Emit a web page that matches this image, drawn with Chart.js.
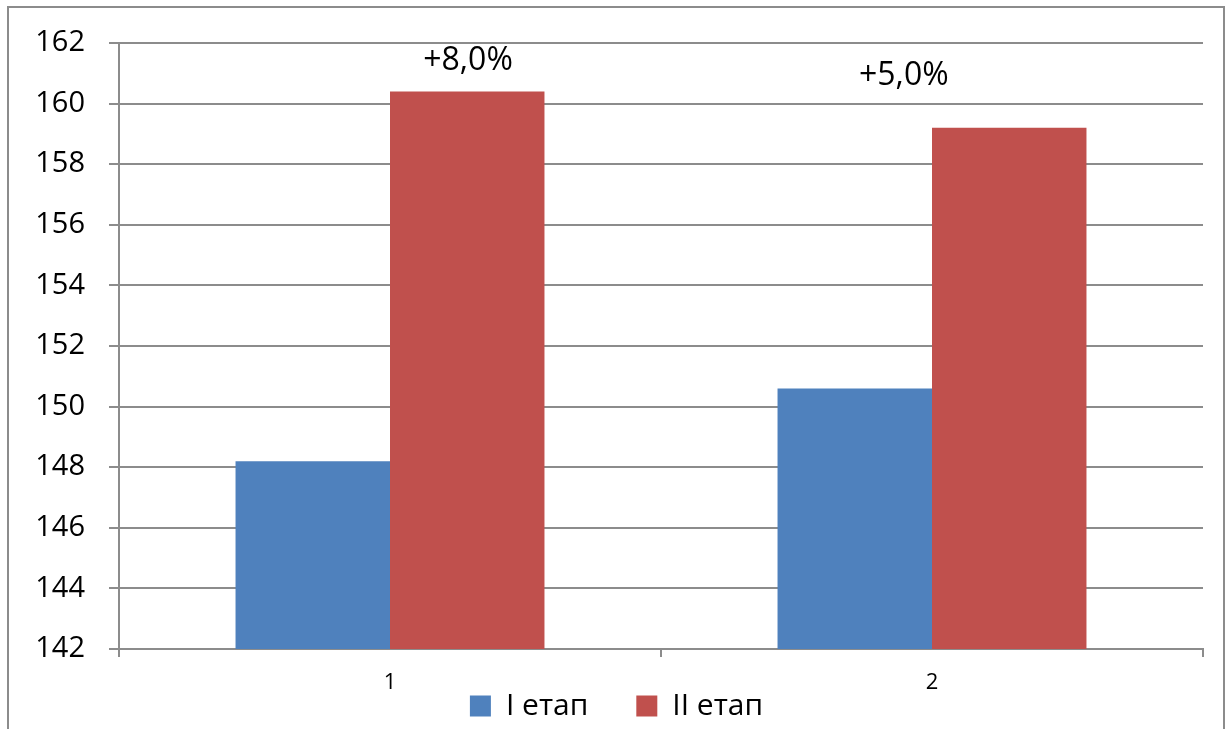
<!DOCTYPE html>
<html>
<head>
<meta charset="utf-8">
<script src="https://cdn.jsdelivr.net/npm/chart.js@4/dist/chart.umd.min.js"></script>
<style>
  html, body { margin: 0; padding: 0; background: #fff; overflow: hidden; }
  #frame { position: absolute; left: 7px; top: 6px; width: 1214px; height: 760px; border: 2px solid #8c8c8c; }
  #wrap { position: absolute; left: 0; top: 0; width: 1230px; height: 729px; }
</style>
</head>
<body>
<div id="frame"></div>
<div id="wrap"><canvas id="barChart"></canvas></div>
<script>
'use strict';

// Data
const categories = ['1', '2'];
const stageOne = [148.2, 150.6];
const stageTwo = [160.4, 159.2];
const seriesNames = ['I етап', 'II етап'];
const yTicks = [142, 144, 146, 148, 150, 152, 154, 156, 158, 160, 162];

// Growth notes: text, category position, value position
const noteText = ['+8,0%', '+5,0%'];
const noteX = [0.144, 0.948];
const noteY = [161.4, 160.9];

(function () {
    const blueColor = '#4F81BD',
        redColor = '#C0504D',
        gridColor = '#8c8c8c',
        textColor = '#000000',
        fontFamily = '"Open Sans", "Noto Sans", sans-serif';

    // Draw the percent notes above the bars
    const notesPlugin = {
        id: 'notes',
        afterDatasetsDraw(chart) {
            const ctx = chart.ctx;
            const xs = chart.scales.x, ys = chart.scales.y;
            ctx.save();
            ctx.fillStyle = textColor;
            ctx.font = '32px ' + fontFamily;
            ctx.textAlign = 'center';
            ctx.textBaseline = 'middle';
            noteText.forEach(function (t, i) {
                ctx.fillText(t, xs.getPixelForValue(noteX[i]), ys.getPixelForValue(noteY[i]));
            });
            ctx.restore();
        }
    };

    const barChart = document.getElementById('barChart');
    if (barChart) {
        new Chart(barChart, {
            type: 'bar',
            data: {
                labels: categories,
                datasets: [
                    {
                        label: seriesNames[0],
                        data: stageOne,
                        backgroundColor: blueColor,
                        borderWidth: 0,
                        categoryPercentage: 0.57,
                        barPercentage: 1
                    },
                    {
                        label: seriesNames[1],
                        data: stageTwo,
                        backgroundColor: redColor,
                        borderWidth: 0,
                        categoryPercentage: 0.57,
                        barPercentage: 1
                    }
                ]
            },
            options: {
                responsive: true,
                maintainAspectRatio: false,
                animation: false,
                layout: {
                    padding: { top: 43, right: 27, left: 30, bottom: -8 }
                },
                plugins: {
                    tooltip: { enabled: false },
                    legend: {
                        position: 'bottom',
                        labels: {
                            color: textColor,
                            boxWidth: 21,
                            boxHeight: 21,
                            padding: 48,
                            font: { family: fontFamily, size: 30 }
                        }
                    }
                },
                scales: {
                    x: {
                        // labels sit under the axis, the box itself stays thin
                        afterFit(scale) {
                            scale.height = -6;
                        },
                        grid: {
                            drawOnChartArea: false,
                            drawTicks: true,
                            tickLength: 8,
                            color: gridColor,
                            lineWidth: 2
                        },
                        border: { color: gridColor, width: 2 },
                        ticks: {
                            color: textColor,
                            mirror: true,
                            padding: -47,
                            font: { family: fontFamily, size: 22 }
                        }
                    },
                    y: {
                        min: yTicks[0],
                        max: yTicks[yTicks.length - 1],
                        afterFit(scale) {
                            scale.width = 89;
                        },
                        afterBuildTicks(scale) {
                            scale.ticks = yTicks.map(function (v) { return { value: v }; });
                        },
                        grid: {
                            color: gridColor,
                            lineWidth: 2,
                            tickLength: 10
                        },
                        border: { color: gridColor, width: 2 },
                        ticks: {
                            color: textColor,
                            padding: 24,
                            font: { family: fontFamily, size: 29 }
                        }
                    }
                }
            },
            plugins: [notesPlugin]
        });
    }
})();
</script>
</body>
</html>
